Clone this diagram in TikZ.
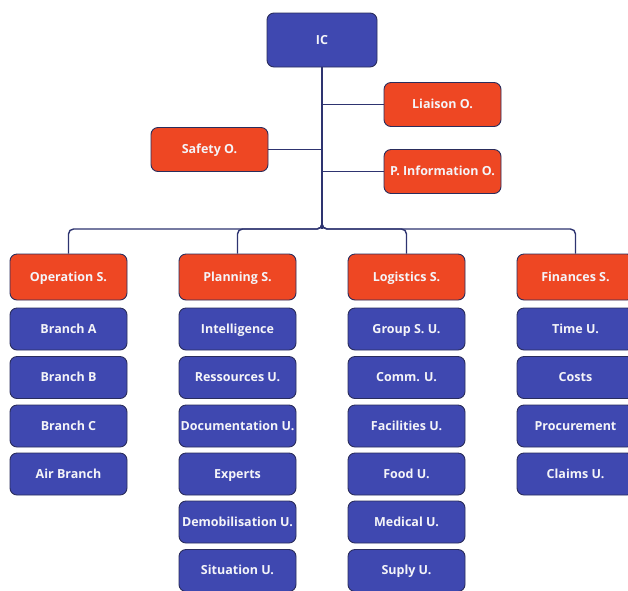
\documentclass[tikz,border=0pt]{standalone}
\usepackage{fontspec}
\setmainfont{Open Sans}
\definecolor{boxblue}{HTML}{3F48B0}
\definecolor{boxred}{HTML}{EE4723}
\definecolor{edgec}{HTML}{2A2D5C}
\definecolor{linec}{HTML}{2E3470}
\definecolor{txtc}{HTML}{F4F4F8}
\begin{document}
\begin{tikzpicture}[x=1pt,y=-1pt,
  base/.style={draw=edgec, line width=0.9pt, rounded corners=7pt, text=txtc,
    font=\fontsize{12.5}{14}\selectfont\bfseries, inner sep=0pt,
    text height=8.9pt, text depth=0pt},
  bluebox/.style={base, fill=boxblue, minimum width=117pt, minimum height=42pt},
  redbox/.style={base, fill=boxred, minimum width=117pt, minimum height=44pt},
  topbox/.style={base, fill=boxblue, minimum width=110pt, minimum height=54pt},
  conn/.style={draw=linec, line width=1.4pt, rounded corners=5pt}]
\useasboundingbox (0,0) rectangle (628,590);
\fill[white] (0,0) rectangle (628,590);

\node[topbox] (ic) at (322,40) {IC};
\node[redbox] (liaison) at (442.5,104.5) {Liaison O.};
\node[redbox] (safety) at (209.5,149.5) {Safety O.};
\node[redbox] (pinfo) at (442.5,171.5) {P. Information O.};

\coordinate (bus) at (322,229);

\node[redbox, minimum height=46pt] (ops) at (68.5,277) {Operation S.};
\node[redbox, minimum height=46pt] (plan) at (237.5,277) {Planning S.};
\node[redbox, minimum height=46pt] (log) at (406.5,277) {Logistics S.};
\node[redbox, minimum height=46pt] (fin) at (575.5,277) {Finances S.};

% Operation column
\node[bluebox] (o1) at (68.5,329) {Branch A};
\node[bluebox] (o2) at (68.5,377.5) {Branch B};
\node[bluebox] (o3) at (68.5,426) {Branch C};
\node[bluebox] (o4) at (68.5,474) {Air Branch};
% Planning column
\node[bluebox] (p1) at (237.5,329) {Intelligence};
\node[bluebox] (p2) at (237.5,377.5) {Ressources U.};
\node[bluebox] (p3) at (237.5,426) {Documentation U.};
\node[bluebox] (p4) at (237.5,474) {Experts};
\node[bluebox] (p5) at (237.5,522) {Demobilisation U.};
\node[bluebox] (p6) at (237.5,570.5) {Situation U.};
% Logistics column
\node[bluebox] (l1) at (406.5,329) {Group S. U.};
\node[bluebox] (l2) at (406.5,377.5) {Comm. U.};
\node[bluebox] (l3) at (406.5,426) {Facilities U.};
\node[bluebox] (l4) at (406.5,474) {Food U.};
\node[bluebox] (l5) at (406.5,522) {Medical U.};
\node[bluebox] (l6) at (406.5,570.5) {Suply U.};
% Finances column
\node[bluebox] (f1) at (575.5,329) {Time U.};
\node[bluebox] (f2) at (575.5,377.5) {Costs};
\node[bluebox] (f3) at (575.5,426) {Procurement};
\node[bluebox] (f4) at (575.5,474) {Claims U.};

% connectors
\draw[conn] (ic.south) -- (bus);
\draw[conn] (liaison.west) -- (liaison.west -| ic.south);
\draw[conn] (safety.east) -- (safety.east -| ic.south);
\draw[conn] (pinfo.west) -- (pinfo.west -| ic.south);
\draw[conn] (ic.south) -- (bus) -| (ops.north);
\draw[conn] (ic.south) -- (bus) -| (plan.north);
\draw[conn] (ic.south) -- (bus) -| (log.north);
\draw[conn] (ic.south) -- (bus) -| (fin.north);
\end{tikzpicture}
\end{document}
